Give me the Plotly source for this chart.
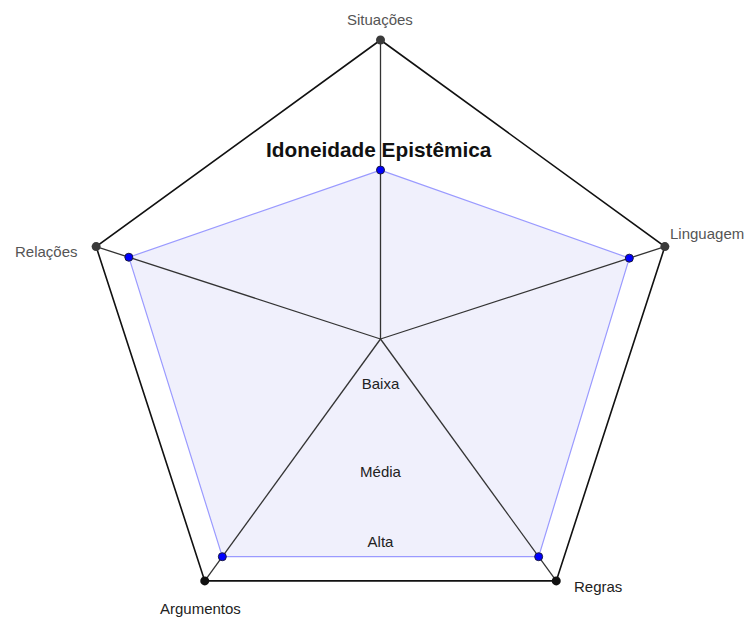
import numpy as np
import plotly.graph_objects as go

# eixos do radar (ordem horária a partir do topo)
categories = ["Situações", "Linguagem", "Regras", "Argumentos", "Relações"]
angles_deg = [90, 18, -54, -126, 162]
values = [0.565, 0.875, 0.90, 0.90, 0.885]   # idoneidade observada (0..1)
outer = [1.0, 1.0, 1.0, 1.0, 1.0]

levels = ["Baixa", "Média", "Alta"]
level_r = [0.154, 0.448, 0.682]

title = "Idoneidade Epistêmica"

# a página tem 8px de margem no body: a figura fica um pouco menor
OFF = 8
W, H = 754 - OFF, 619 - OFF
CX, CY, R = 380.5 - OFF, 339 - OFF, 299  # centro e raio em px


def to_xy(r, ang):
    a = np.radians(ang)
    return np.array(r) * np.cos(a), np.array(r) * np.sin(a)


ox, oy = to_xy(outer, angles_deg)
vx, vy = to_xy(values, angles_deg)

fig = go.Figure()

# polígono dos valores
fig.add_trace(go.Scatter(
    x=list(vx) + [vx[0]], y=list(vy) + [vy[0]],
    mode="lines", fill="toself", fillcolor="#f0f0fc",
    line=dict(color="#9a9aff", width=1.2), hoverinfo="skip",
))

# raios
for x1, y1 in zip(ox, oy):
    fig.add_trace(go.Scatter(x=[0, x1], y=[0, y1], mode="lines",
                             line=dict(color="#333333", width=1.3), hoverinfo="skip"))

# pentágono externo
fig.add_trace(go.Scatter(
    x=list(ox) + [ox[0]], y=list(oy) + [oy[0]],
    mode="lines", line=dict(color="#111111", width=1.6), hoverinfo="skip",
))

# vértices externos
fig.add_trace(go.Scatter(
    x=ox, y=oy, mode="markers",
    marker=dict(size=9, color=["#3a3a3a", "#3a3a3a", "#111111", "#111111", "#3a3a3a"]),
    hoverinfo="skip",
))

# pontos dos valores
fig.add_trace(go.Scatter(
    x=vx, y=vy, mode="markers",
    marker=dict(size=8, color="#0000ff", line=dict(color="#1a1a40", width=1)),
    text=categories, hovertemplate="%{text}<extra></extra>",
))

# níveis
lx, ly = to_xy(level_r, [-90] * len(level_r))
fig.add_trace(go.Scatter(
    x=lx, y=ly, mode="text", text=levels,
    textfont=dict(family="Liberation Sans, Arial", size=15, color="#222222"),
    hoverinfo="skip",
))

# rótulos dos eixos
label_style = [
    dict(xanchor="center", yanchor="bottom", xshift=-1, yshift=10, color="#555555"),
    dict(xanchor="left", yanchor="middle", xshift=3, yshift=13, color="#555555"),
    dict(xanchor="left", yanchor="middle", xshift=16, yshift=-6, color="#222222"),
    dict(xanchor="center", yanchor="middle", xshift=-4, yshift=-28, color="#222222"),
    dict(xanchor="right", yanchor="middle", xshift=-16, yshift=-5, color="#555555"),
]
for name, x, y, st in zip(categories, ox, oy, label_style):
    fig.add_annotation(
        x=x, y=y, text=name, showarrow=False,
        xanchor=st["xanchor"], yanchor=st["yanchor"],
        xshift=st["xshift"], yshift=st["yshift"],
        font=dict(family="Liberation Sans, Arial", size=15, color=st["color"]),
    )

fig.add_annotation(
    xref="paper", yref="paper", x=(379 - OFF) / W, y=1 - (149 - OFF) / H,
    text="<b>" + title + "</b>", showarrow=False,
    xanchor="center", yanchor="middle",
    font=dict(family="Liberation Sans, Arial", size=20.8, color="#111111"),
)

fig.update_layout(
    width=W, height=H,
    margin=dict(l=0, r=0, t=0, b=0),
    paper_bgcolor="white", plot_bgcolor="white",
    showlegend=False,
    xaxis=dict(range=[-CX / R, (W - CX) / R], visible=False, fixedrange=True),
    yaxis=dict(range=[(CY - H) / R, CY / R], visible=False, fixedrange=True),
)

fig.write_html("out.html")
